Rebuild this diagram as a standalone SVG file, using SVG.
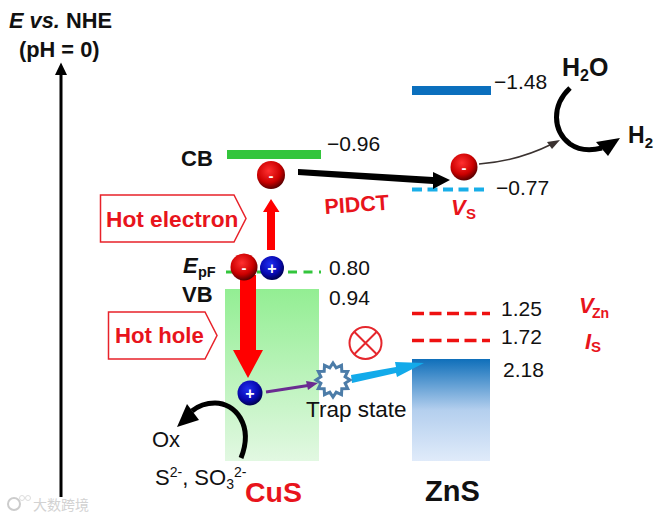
<svg xmlns="http://www.w3.org/2000/svg" width="665" height="517" viewBox="0 0 665 517">
<style>
text{font-family:"Liberation Sans",Arial,sans-serif;fill:#111}
.b{font-weight:bold}
.n{font-size:21px}
.r{fill:#e8141c;font-weight:bold}
.h{fill:#fff;stroke:#e8222a;stroke-width:1.5}
.sign{fill:#fff;font-weight:bold;text-anchor:middle}
.rd{stroke:#ee1111;stroke-width:3.500;stroke-dasharray:12 5.500;fill:none}
</style>
<defs>
<radialGradient id="eg" cx="0.42" cy="0.35" r="0.65"><stop offset="0" stop-color="#ff3030"/><stop offset="0.65" stop-color="#cc0000"/><stop offset="1" stop-color="#5a0000"/></radialGradient>
<radialGradient id="hg" cx="0.42" cy="0.35" r="0.65"><stop offset="0" stop-color="#2030f0"/><stop offset="0.65" stop-color="#0808b0"/><stop offset="1" stop-color="#000050"/></radialGradient>
<linearGradient id="cus" x1="0" y1="0" x2="0" y2="1"><stop offset="0" stop-color="#93ee93"/><stop offset="1" stop-color="#e2f8e2"/></linearGradient>
<linearGradient id="zns" x1="0" y1="0" x2="0" y2="1"><stop offset="0" stop-color="#0f6fba"/><stop offset="0.5" stop-color="#b4cfee"/><stop offset="1" stop-color="#e0ebfa"/></linearGradient>
</defs>

<g id="axis">
<path d="M59.500 497V75H55L61 62.500L67 75H62.500V497Z" fill="#000"/>
<text x="9" y="28" font-size="21.800" class="b"><tspan font-style="italic">E vs.</tspan> NHE</text>
<text x="19" y="57" font-size="21.800" class="b">(pH = 0)</text>
</g>

<g id="cus-band">
<rect x="225" y="289" width="94" height="172" fill="url(#cus)"/>
<rect x="227" y="150" width="94" height="9" fill="#33c53c"/>
<path d="M226 272H321" stroke="#33c53c" stroke-width="3" stroke-dasharray="9 6.500" fill="none"/>
<text x="181" y="166" font-size="22" class="b">CB</text>
<text x="182" y="302" font-size="22" class="b">VB</text>
<text x="183" y="273" font-size="22" class="b" font-style="italic">E</text>
<text x="198" y="277" font-size="14.500" class="b">pF</text>
<text x="327" y="151" class="n">−0.96</text>
<text x="329" y="275" class="n">0.80</text>
<text x="329" y="305" class="n">0.94</text>
<text x="245" y="502" font-size="28.500" class="r">CuS</text>
</g>

<g id="zns-band">
<rect x="412" y="359" width="78" height="102" fill="url(#zns)"/>
<rect x="412" y="86" width="79" height="9" fill="#0b6fbd"/>
<path d="M412 189.500H489" stroke="#18aee8" stroke-width="4" stroke-dasharray="10 5.500" fill="none"/>
<path d="M412 313.500H490M412 340.500H490" class="rd"/>
<text x="494" y="89" class="n">−1.48</text>
<text x="496" y="195" class="n">−0.77</text>
<text x="501" y="316" class="n">1.25</text>
<text x="501" y="344" class="n">1.72</text>
<text x="503" y="377" class="n">2.18</text>
<text x="425" y="501" font-size="29" class="b">ZnS</text>
</g>

<g id="connectors">
<path d="M267 250V212H263L271 199L279.500 212H275V250Z" fill="#f00"/>
<path d="M240 275H256V350H263L248 378L233 350H240Z" fill="#f00"/>
<path d="M266 392L308 385.500" stroke="#6a2c91" stroke-width="3" fill="none"/>
<path d="M318 383L306 381L308 390Z" fill="#6a2c91"/>
<path d="M351 375L396 367L395 362L424 363L397 377L396 373L352 383Z" fill="#12aaea"/>
<path d="M298 169L433 177V172L450 180L433 189V184L298 175Z" fill="#000"/>
<path d="M479 164C505 162 530 155 552 144" stroke="#3a3230" stroke-width="1.500" fill="none"/>
<path d="M560 140L547 142L552 149Z" fill="#3a3230"/>
<path d="M570 88C552 105 552 130 570 144C580 151 590 151 602 148" stroke="#000" stroke-width="5" fill="none"/>
<path d="M620 138L596 142L608 156Z" fill="#000"/>
<path d="M241 458C254 425 235 403 215 403C206 403 198 406 192 411" stroke="#000" stroke-width="5" fill="none"/>
<path d="M177 427L187 404L199 420Z" fill="#000"/>
</g>

<g id="hot-electron"><path class="h" d="M100.500 195H234L246 218.500L234 242H100.500Z"/><text x="106" y="227" font-size="22.700" class="r">Hot electron</text></g>
<g id="hot-hole"><path class="h" d="M108.500 312H205L217 335.500L205 359H108.500Z"/><text x="115" y="343" font-size="22.200" class="r">Hot hole</text></g>

<g id="electron-cb"><circle cx="271" cy="175" r="14" fill="url(#eg)"/><text x="271" y="181" font-size="15" class="sign">-</text></g>
<g id="electron-vb"><circle cx="244" cy="267" r="13.500" fill="url(#eg)"/><text x="244" y="273" font-size="15" class="sign">-</text></g>
<g id="hole-vb"><circle cx="272" cy="268" r="12" fill="url(#hg)"/><text x="272" y="274" font-size="16" class="sign">+</text></g>
<g id="hole-low"><circle cx="250" cy="393" r="12.500" fill="url(#hg)"/><text x="250" y="399" font-size="16" class="sign">+</text></g>
<g id="electron-vs"><circle cx="464" cy="167" r="13.500" fill="url(#eg)"/><text x="464" y="173" font-size="15" class="sign">-</text></g>

<g id="trap-state">
<polygon points="333,363 336.200,367.900 341.500,365.300 341.800,371.200 347.700,371.500 345.100,376.800 350,380 345.100,383.200 347.700,388.500 341.800,388.800 341.500,394.700 336.200,392.100 333,397 329.800,392.100 324.500,394.700 324.200,388.800 318.300,388.500 320.900,383.200 316,380 320.900,376.800 318.300,371.500 324.200,371.200 324.500,365.300 329.800,367.900" fill="#fff" stroke="#4c7ca8" stroke-width="3"/>
<text x="306" y="417" font-size="22.500">Trap state</text>
</g>

<g id="forbidden"><circle cx="365.500" cy="343" r="16" fill="#fff" stroke="#e5262c" stroke-width="2"/><path d="M354.500 332L376.500 354M376.500 332L354.500 354" stroke="#e5262c" stroke-width="2" fill="none"/></g>

<g id="labels">
<text x="325" y="214" font-size="21.500" class="r" transform="rotate(-4 325 214)">PIDCT</text>
<text x="451" y="215" font-size="22" class="r" font-style="italic">V</text><text x="466" y="219" font-size="15" class="r">S</text>
<text x="579" y="313" font-size="22" class="r" font-style="italic">V</text><text x="592" y="318" font-size="14" class="r">Zn</text>
<text x="585" y="349" font-size="22" class="r" font-style="italic">I</text><text x="591" y="352" font-size="15" class="r">S</text>
<text x="562" y="76" font-size="25" class="b">H<tspan font-size="16" dy="5">2</tspan><tspan dy="-5">O</tspan></text>
<text x="628" y="143" font-size="23" class="b">H<tspan font-size="15" dy="5">2</tspan></text>
<text x="152" y="447" font-size="22">Ox</text>
<text x="155" y="485" font-size="22">S<tspan font-size="14" dy="-8">2-</tspan><tspan dy="8">, SO</tspan><tspan font-size="14" dy="4">3</tspan><tspan font-size="14" dy="-12">2-</tspan></text>
</g>

<g id="watermark"><circle cx="14" cy="504" r="6" fill="none" stroke="#ccc" stroke-width="2"/><circle cx="22" cy="498" r="2.500" fill="none" stroke="#ddd"/><circle cx="28" cy="498" r="2.500" fill="none" stroke="#ddd"/><text x="33" y="510" font-size="14" style="fill:#d2d2d2;font-family:'Noto Sans CJK SC',sans-serif">大数跨境</text></g>
</svg>
